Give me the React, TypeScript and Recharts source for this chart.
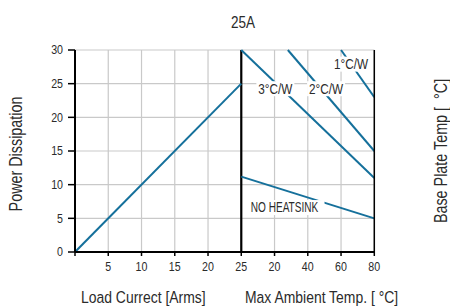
import React from 'react';
import {
  ComposedChart,
  Line,
  XAxis,
  YAxis,
  CartesianGrid,
  ReferenceLine,
  Scatter,
  Customized,
} from 'recharts';

const FONT = '"Liberation Sans", Arimo, Arial, sans-serif';
const NARROW = 0.82;
const BLUE = '#15709b';
const TEXT = '#2b2b2b';

// ---- text ----
const chartTitle = '25A';
const leftAxisTitle = 'Power Dissipation';
const rightAxisTitle = 'Base Plate Temp [\u00a0\u00a0°C]';
const bottomLeftTitle = 'Load Currect [Arms]';
const bottomRightTitle = 'Max Ambient Temp. [\u00a0°C]';

// ---- ticks ----
const xTickPositions = [0, 5, 10, 15, 20, 25, 30, 35, 40, 45];
const xTickLabels = ['', '5', '10', '15', '20', '25', '20', '40', '60', '80'];
const powerTicks = [0, 5, 10, 15, 20, 25, 30];
const baseTempTicks = [95, 100, 110, 120];

// ---- left panel: load current [A] vs power [W] ----
const loadCurrent = [0, 25];
const loadPower = [0, 25];

// ---- right panel: ambient temperature [°C] vs power [W] ----
const rth3Temp = [0, 80];
const rth3Power = [30, 11];
const rth2Temp = [28, 80];
const rth2Power = [30, 15];
const rth1Temp = [60, 80];
const rth1Power = [30, 23];
const noHsTemp = [0, 80];
const noHsPower = [11.2, 5];

// ---- curve labels (anchored in data units) ----
const curveLabels = ['3°C/W', '2°C/W', '1°C/W', 'NO HEATSINK'];
const curveLabelTemp = [20.5, 51, 66, 26];
const curveLabelPower = [24.25, 24.25, 27.9, 6.6];

// the right panel shares the x axis: 0..80 °C occupies positions 25..45
const tempToX = (t: number) => 25 + t / 4;

const toRows = (xs: number[], ys: number[]) => xs.map((x, i) => ({ x, y: ys[i] }));

const loadRows = toRows(loadCurrent, loadPower);
const rth3Rows = toRows(rth3Temp.map(tempToX), rth3Power);
const rth2Rows = toRows(rth2Temp.map(tempToX), rth2Power);
const rth1Rows = toRows(rth1Temp.map(tempToX), rth1Power);
const noHsRows = toRows(noHsTemp.map(tempToX), noHsPower);
const labelRows = curveLabels.map((text, i) => ({
  x: tempToX(curveLabelTemp[i]),
  y: curveLabelPower[i],
  text,
}));

type NTProps = {
  x: number;
  y: number;
  size: number;
  anchor?: 'start' | 'middle' | 'end';
  baseline?: string;
  rotate?: number;
  sx?: number;
  children: React.ReactNode;
};

const NText = ({ x, y, size, anchor = 'start', baseline, rotate, sx = NARROW, children }: NTProps) => (
  <text
    transform={`translate(${x} ${y})${rotate ? ` rotate(${rotate})` : ''} scale(${sx} 1)`}
    textAnchor={anchor}
    dominantBaseline={baseline}
    fontFamily={FONT}
    fontSize={size}
    fill={TEXT}
  >
    {children}
  </text>
);

const LabelShape = (props: any) => {
  const { cx, cy, payload } = props;
  const text: string = payload.text;
  const long = text.length > 6;
  const fs = 14;
  const sx = long ? 0.72 : 0.84;
  const w = long ? 80 : 38;
  const h = 15;
  return (
    <g>
      <rect x={cx - w / 2} y={cy - h / 2} width={w} height={h} fill="#fff" />
      <NText x={cx} y={cy} size={fs} anchor="middle" baseline="central" sx={sx}>
        {text}
      </NText>
    </g>
  );
};

const XTick = (props: any) => {
  const { x, y, payload } = props;
  const label = xTickLabels[xTickPositions.indexOf(payload.value)] ?? '';
  return (
    <NText x={x} y={y + 9.3} size={13} anchor="middle">
      {label}
    </NText>
  );
};

const LeftTick = (props: any) => {
  const { x, y, payload } = props;
  return (
    <NText x={x} y={y} size={13} anchor="end" baseline="central">
      {payload.value}
    </NText>
  );
};

const RightTick = (props: any) => {
  const { x, y, payload } = props;
  return (
    <NText x={x + 22} y={y} size={13} anchor="end" baseline="central">
      {payload.value}
    </NText>
  );
};

const Titles = () => (
  <g>
    <NText x={243} y={28} size={16.5} anchor="middle">
      {chartTitle}
    </NText>
    <NText x={81} y={302.5} size={17}>
      {bottomLeftTitle}
    </NText>
    <NText x={245} y={302.5} size={17}>
      {bottomRightTitle}
    </NText>
    <NText x={16} y={154} size={17.5} anchor="middle" baseline="central" rotate={-90}>
      {leftAxisTitle}
    </NText>
    <NText x={441} y={151} size={17.5} anchor="middle" baseline="central" rotate={-90}>
      {rightAxisTitle}
    </NText>
  </g>
);

export default function App() {
  return (
    <div style={{ position: 'absolute', left: 0, top: 0, width: 450, height: 307, background: '#fff' }}>
      <ComposedChart
        width={450}
        height={307}
        margin={{ top: 50, right: 35.7, bottom: 25, left: 35 }}
      >
        <CartesianGrid yAxisId="left" stroke="#c9c9c9" strokeWidth={1.2} />
        <XAxis
          type="number"
          dataKey="x"
          domain={[0, 45]}
          ticks={xTickPositions}
          interval={0}
          height={30}
          axisLine={{ stroke: '#000', strokeWidth: 2 }}
          tickLine={{ stroke: '#000', strokeWidth: 1.5 }}
          tickSize={4}
          tickMargin={6}
          tick={<XTick />}
          allowDataOverflow
        />
        <YAxis
          yAxisId="left"
          type="number"
          domain={[0, 30]}
          ticks={powerTicks}
          interval={0}
          width={40}
          axisLine={{ stroke: '#000', strokeWidth: 2 }}
          tickLine={{ stroke: '#000', strokeWidth: 1.5 }}
          tickSize={7}
          tickMargin={5}
          tick={<LeftTick />}
        />
        <YAxis
          yAxisId="right"
          orientation="right"
          type="number"
          domain={[95, 125]}
          reversed
          ticks={baseTempTicks}
          interval={0}
          width={40}
          axisLine={{ stroke: '#000', strokeWidth: 1.5 }}
          tickLine={{ stroke: '#000', strokeWidth: 1.5 }}
          tickSize={6}
          tickMargin={2}
          tick={<RightTick />}
        />
        <ReferenceLine yAxisId="left" x={25} stroke="#000" strokeWidth={2.2} />
        <Line yAxisId="left" data={loadRows} dataKey="y" stroke={BLUE} strokeWidth={2} dot={false} isAnimationActive={false} />
        <Line yAxisId="left" data={rth3Rows} dataKey="y" stroke={BLUE} strokeWidth={2} dot={false} isAnimationActive={false} />
        <Line yAxisId="left" data={rth2Rows} dataKey="y" stroke={BLUE} strokeWidth={2} dot={false} isAnimationActive={false} />
        <Line yAxisId="left" data={rth1Rows} dataKey="y" stroke={BLUE} strokeWidth={2} dot={false} isAnimationActive={false} />
        <Line yAxisId="left" data={noHsRows} dataKey="y" stroke={BLUE} strokeWidth={2} dot={false} isAnimationActive={false} />
        <Scatter yAxisId="left" data={labelRows} dataKey="y" shape={<LabelShape />} isAnimationActive={false} />
        <Customized component={<Titles />} />
      </ComposedChart>
    </div>
  );
}
